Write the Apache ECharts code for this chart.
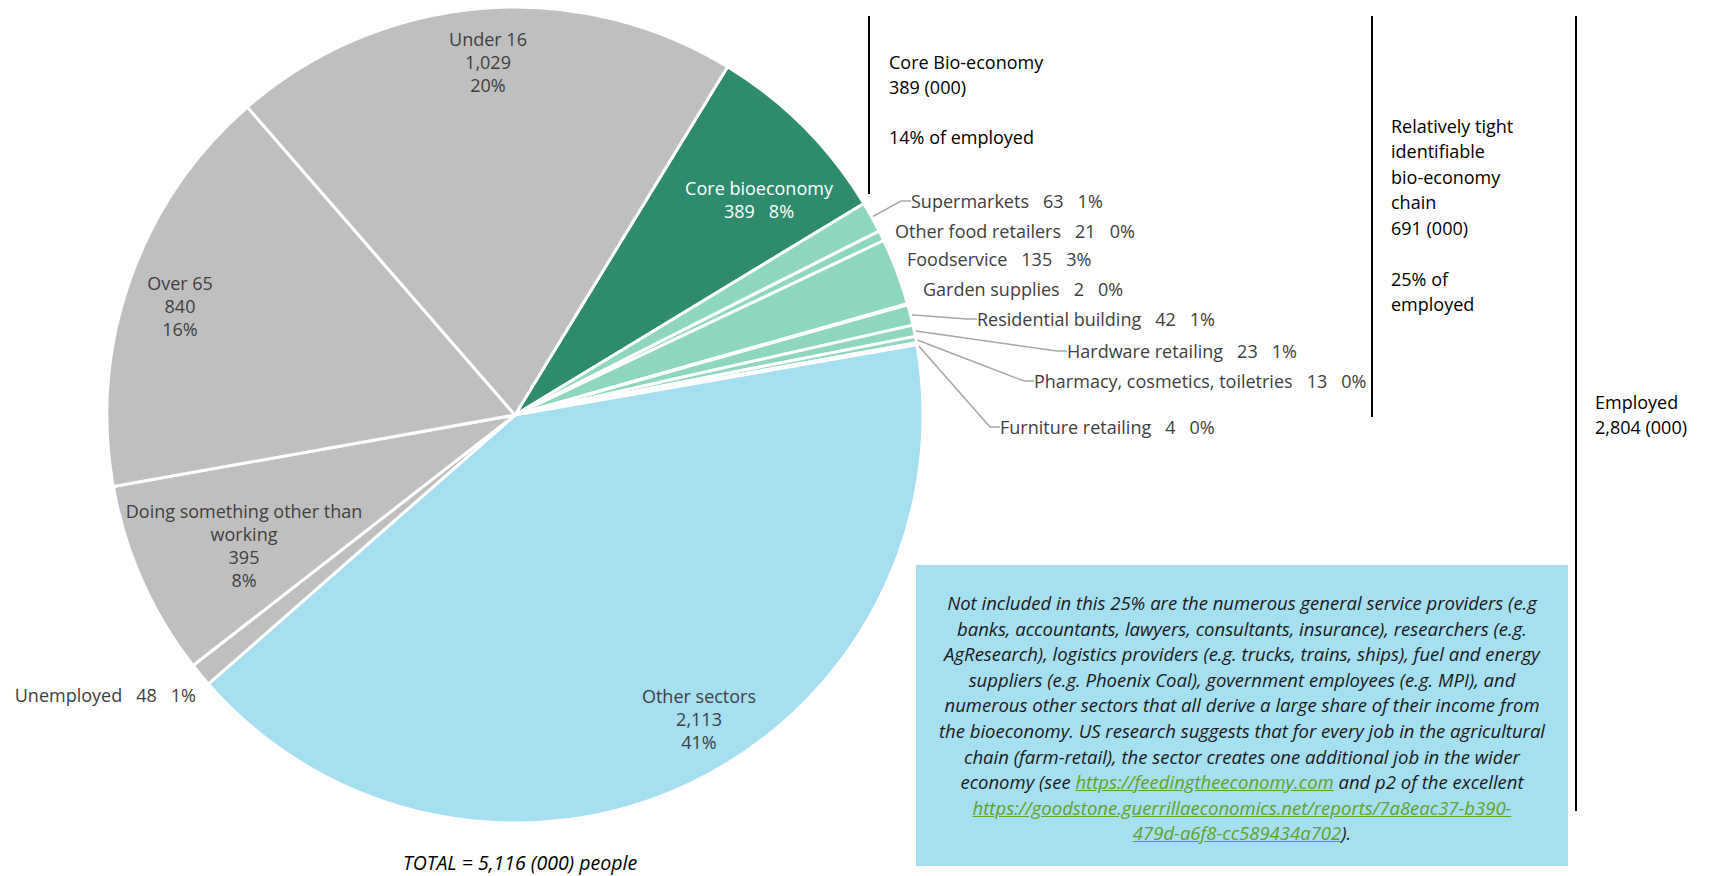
<!DOCTYPE html>
<html>
<head>
<meta charset="utf-8">
<title>Bio-economy employment</title>
<script src="https://cdn.jsdelivr.net/npm/echarts@6.0.0/dist/echarts.min.js"></script>
<style>
  html, body { margin: 0; padding: 0; background: #fff; }
  #wrap { position: relative; width: 1718px; height: 876px; }
  #chart { width: 1718px; height: 876px; }
  .note {
    position: absolute;
    left: 916px;
    top: 565px;
    width: 652px;
    height: 301px;
    box-sizing: border-box;
    padding-top: 25px;
    background: #a6def2;
    font-family: "Open Sans", sans-serif;
    font-style: italic;
    font-size: 18.5px;
    line-height: 25.6px;
    color: #1a1a1a;
    text-align: center;
    white-space: nowrap;
  }
  .note a { color: #64a028; text-decoration: underline; }
</style>
</head>
<body>
<div id="wrap">
  <div id="chart"></div>
  <div class="note">
    Not included in this 25% are the numerous general service providers (e.g<br>
    banks, accountants, lawyers, consultants, insurance), researchers (e.g.<br>
    AgResearch), logistics providers (e.g. trucks, trains, ships), fuel and energy<br>
    suppliers (e.g. Phoenix Coal), government employees (e.g. MPI), and<br>
    numerous other sectors that all derive a large share of their income from<br>
    the bioeconomy. US research suggests that for every job in the agricultural<br>
    chain (farm-retail), the sector creates one additional job in the wider<br>
    economy (see <a>https://feedingtheeconomy.com</a> and p2 of the excellent<br>
    <a>https://goodstone.guerrillaeconomics.net/reports/7a8eac37-b390-<br>479d-a6f8-cc589434a702</a>).
  </div>
</div>
<script>
// population slices, clockwise from the core bio-economy (thousands of people)
const sectors = [
  'Core bioeconomy', 'Supermarkets', 'Other food retailers', 'Foodservice',
  'Garden supplies', 'Residential building', 'Hardware retailing',
  'Pharmacy, cosmetics, toiletries', 'Furniture retailing', 'Other sectors',
  'Unemployed', 'Doing something other than\nworking', 'Over 65', 'Under 16'
]
const values = [389, 63, 21, 135, 2, 42, 23, 13, 4, 2113, 48, 395, 840, 1029]
const shares = ['8%', '1%', '0%', '3%', '0%', '1%', '1%', '0%', '0%', '41%', '1%', '8%', '16%', '20%']
const groups = ['core', 'chain', 'chain', 'chain', 'chain', 'chain', 'chain', 'chain', 'chain',
  'employed', 'outside', 'outside', 'outside', 'outside']

const FONT = '"Open Sans", sans-serif'
const GAP = '   '
const fills = { core: '#2e8b6e', chain: '#8fd6c1', employed: '#a6def2', outside: '#bfbfbf' }

// where each label sits: x, y, align, text layout
const spots = [
  [759, 199, 'center', 'two'],
  [911, 201, 'left', 'line'],
  [895, 231, 'left', 'line'],
  [907, 259, 'left', 'line'],
  [923, 289, 'left', 'line'],
  [977, 319, 'left', 'line'],
  [1067, 351, 'left', 'line'],
  [1034, 381, 'left', 'line'],
  [1000, 427, 'left', 'line'],
  [699, 719, 'center', 'stack'],
  [196, 695, 'right', 'line'],
  [244, 545, 'center', 'stack'],
  [180, 306, 'center', 'stack'],
  [488, 62, 'center', 'stack']
]
const leaders = ['Supermarkets', 'Residential building', 'Hardware retailing',
  'Pharmacy, cosmetics, toiletries', 'Furniture retailing']

function labelText(i) {
  const v = values[i].toLocaleString('en-US')
  const mode = spots[i][3]
  if (mode === 'stack') return sectors[i] + '\n' + v + '\n' + shares[i]
  if (mode === 'two') return sectors[i] + '\n' + v + GAP + shares[i]
  return sectors[i] + GAP + v + GAP + shares[i]
}

const pieData = values.map((v, i) => ({
  name: sectors[i],
  value: v,
  itemStyle: { color: fills[groups[i]] },
  label: { color: groups[i] === 'core' ? '#ffffff' : '#404040' },
  labelLine: { show: leaders.includes(sectors[i]) }
}))

const myChart = echarts.init(document.getElementById('chart'), null, { renderer: 'svg' })

function vline(x, y1, y2) {
  return {
    type: 'line',
    shape: { x1: x, y1: y1, x2: x, y2: y2 },
    style: { stroke: '#000', lineWidth: 2 },
    silent: true
  }
}
function block(x, y, text, extra) {
  return {
    type: 'text',
    x: x,
    y: y,
    silent: true,
    style: Object.assign({
      text: text,
      fill: '#000',
      fontFamily: FONT,
      fontSize: 18,
      lineHeight: 25,
      verticalAlign: 'top'
    }, extra || {})
  }
}

const option = {
  animation: false,
  graphic: [
    vline(869, 16, 194),
    vline(1372, 16, 417),
    vline(1576, 16, 811),
    block(889, 49, 'Core Bio-economy\n389 (000)\n\n14% of employed'),
    block(1391, 113, 'Relatively tight\nidentifiable\nbio-economy\nchain\n691 (000)\n\n25% of\nemployed', { lineHeight: 25.5 }),
    block(1595, 389, 'Employed\n2,804 (000)'),
    block(520, 862, 'TOTAL = 5,116 (000) people', { align: 'center', verticalAlign: 'middle', fontStyle: 'italic', fontSize: 19.5 })
  ],
  series: [
    {
      type: 'pie',
      center: [515, 415],
      radius: 408,
      startAngle: 58.6,
      clockwise: true,
      avoidLabelOverlap: false,
      silent: true,
      itemStyle: { borderColor: '#ffffff', borderWidth: 3 },
      label: {
        show: true,
        position: 'outside',
        fontFamily: FONT,
        fontSize: 18,
        lineHeight: 23,
        formatter: (p) => labelText(p.dataIndex)
      },
      labelLine: {
        length: 10,
        length2: 10,
        lineStyle: { color: '#a6a6a6', width: 1.5 }
      },
      labelLayout: function (p) {
        const s = spots[p.dataIndex]
        return { x: s[0], y: s[1], align: s[2], verticalAlign: 'middle' }
      },
      data: pieData
    }
  ]
}

myChart.setOption(option)
window.addEventListener('resize', function () {
  myChart.resize()
})
</script>
</body>
</html>
